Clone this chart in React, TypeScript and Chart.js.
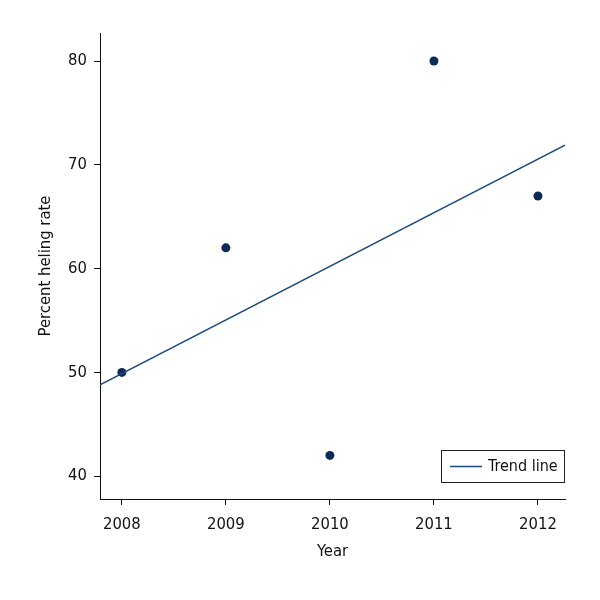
import React, { useEffect, useRef } from "react";
import { Chart, registerables } from "chart.js";

Chart.register(...registerables);

const years = [2008, 2009, 2010, 2011, 2012];
const healingRate = [50, 62, 42, 80, 67];
const trendX = [2007.79, 2012.26];
const trendY = [48.8, 71.9];
const yTicks = [40, 50, 60, 70, 80];
const legendLabel = "Trend line";

const FONT = "'Liberation Sans Narrow', 'DejaVu Sans Condensed', 'Roboto', sans-serif";

const legendPlugin = {
  id: "boxLegend",
  afterDraw(chart: any) {
    const ctx = chart.ctx;
    const x = 441, y = 450, w = 123, h = 32;
    ctx.save();
    ctx.strokeStyle = "#222";
    ctx.lineWidth = 1;
    ctx.strokeRect(x + 0.5, y + 0.5, w, h);
    ctx.strokeStyle = "#1d4a7c";
    ctx.lineWidth = 1.5;
    ctx.beginPath();
    ctx.moveTo(x + 9, y + 16.5);
    ctx.lineTo(x + 41, y + 16.5);
    ctx.stroke();
    ctx.fillStyle = "#111";
    ctx.font = "16px " + FONT;
    ctx.textBaseline = "middle";
    ctx.fillText(legendLabel, x + 47, y + 16.5);
    ctx.restore();
  },
};

export default function App() {
  const ref = useRef<HTMLCanvasElement>(null);
  useEffect(() => {
    const chart = new Chart(ref.current as HTMLCanvasElement, {
      type: "scatter",
      data: {
        datasets: [
          {
            type: "line",
            label: legendLabel,
            data: trendX.map((x, i) => ({ x, y: trendY[i] })),
            borderColor: "#1d4a7c",
            borderWidth: 1.5,
            pointRadius: 0,
            fill: false,
          } as any,
          {
            label: "Percent healing rate",
            data: years.map((x, i) => ({ x, y: healingRate[i] })),
            backgroundColor: "#0b2a55",
            borderColor: "#0b2a55",
            pointRadius: 4.5,
            borderWidth: 0,
          },
        ],
      },
      options: {
        animation: false,
        responsive: false,
        layout: { padding: { left: 0, top: 33, right: 35, bottom: 0 } },
        plugins: { legend: { display: false }, tooltip: { enabled: false } },
        scales: {
          x: {
            type: "linear",
            min: 2007.79,
            max: 2012.26,
            afterBuildTicks: (s: any) => {
              s.ticks = years.map((v) => ({ value: v }));
            },
            afterFit: (s: any) => {
              s.height = 101;
            },
            ticks: {
              color: "#111",
              font: { family: FONT, size: 16.5 },
              padding: 10,
              callback: (v: any) => String(v),
            },
            grid: { drawOnChartArea: false, tickLength: 6, color: "#111", lineWidth: 1 },
            border: { color: "#111", width: 1 },
            title: {
              display: true,
              text: "Year",
              color: "#111",
              font: { family: FONT, size: 16.5 },
              padding: { top: 0, bottom: 38 },
            },
          },
          y: {
            min: 37.8,
            max: 82.7,
            afterBuildTicks: (s: any) => {
              s.ticks = yTicks.map((v) => ({ value: v }));
            },
            afterFit: (s: any) => {
              s.width = 100;
            },
            ticks: {
              color: "#111",
              font: { family: FONT, size: 16.5 },
              padding: 7,
            },
            grid: { drawOnChartArea: false, tickLength: 6, color: "#111", lineWidth: 1 },
            border: { color: "#111", width: 1 },
            title: {
              display: true,
              text: "Percent heling rate",
              color: "#111",
              font: { family: FONT, size: 16.5 },
              padding: { top: 36, bottom: 0 },
            },
          },
        },
      },
      plugins: [legendPlugin],
    });
    return () => chart.destroy();
  }, []);
  return (
    <div style={{ position: "absolute", left: 0, top: 0, width: 600, height: 600, background: "#fff" }}>
      <canvas ref={ref} width={600} height={600} style={{ width: 600, height: 600 }} />
    </div>
  );
}
